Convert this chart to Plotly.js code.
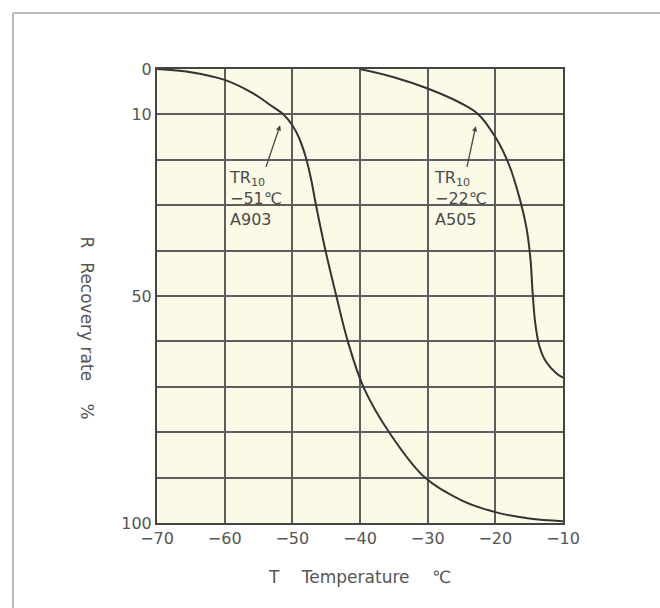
<!DOCTYPE html>
<html>
<head>
<meta charset="utf-8">
<script src="https://cdn.plot.ly/plotly-3.0.1.min.js"></script>
<style>html,body{margin:0;padding:0;background:#fff;}#chart{width:660px;height:608px;}</style>
</head>
<body>
<div id="chart"></div>
<script>
// A903 curve: temperature (°C) vs recovery rate (%)
const a903Temp = [-70, -65, -60, -56, -53, -51.3, -50, -49, -48, -47.2, -46.5, -45.1, -43.5, -41.8, -39.5, -35.7, -30.4, -25, -20, -15, -10];
const a903Rate = [0, 0.7, 2.4, 5.2, 8.2, 10, 12.4, 15.2, 19.5, 24.5, 30, 40, 50, 60, 70, 80, 90, 95, 97.6, 99, 99.6];
// A505 curve
const a505Temp = [-40, -35, -30, -25, -22.5, -20, -18, -16.5, -15.4, -14.8, -14.5, -14.1, -13.5, -12.5, -11, -10];
const a505Rate = [0, 1.8, 4.3, 7.6, 10, 15, 21, 28, 35, 42, 49, 56, 61, 64.5, 67, 68];
// Axis ticks
const xTickVals = [-70, -60, -50, -40, -30, -20, -10];
const xTickText = ['\u221270', '\u221260', '\u221250', '\u221240', '\u221230', '\u221220', '\u221210'];
const yTickVals = [0, 10, 50, 100];
const yTickText = ['0', '10', '50', '100'];
const yGridVals = [20, 30, 40, 60, 70, 80, 90];
// Annotation labels
const labelA903 = 'TR<sub>10</sub><br>\u221251\u2103<br>A903';
const labelA505 = 'TR<sub>10</sub><br>\u221222\u2103<br>A505';
const xTitle = 'T\u2003 Temperature\u2003 \u2103';
const yTitle = 'R\u2002 Recovery rate\u2003 %';

const FONT = 'DejaVu Sans, Verdana, sans-serif';
const lineStyle = {color: '#333333', width: 2, shape: 'spline', smoothing: 1};
const traces = [
  {x: a903Temp, y: a903Rate, mode: 'lines', line: lineStyle, name: 'A903', hoverinfo: 'skip'},
  {x: a505Temp, y: a505Rate, mode: 'lines', line: lineStyle, name: 'A505', hoverinfo: 'skip'}
];

const txtFont = {family: FONT, size: 16, color: '#4a4a4a'};
const gridC = '#5e5e5e';
const layout = {
  width: 660, height: 608,
  margin: {l: 157, r: 97, t: 69, b: 85},
  paper_bgcolor: '#ffffff',
  plot_bgcolor: '#fbfae7',
  showlegend: false,
  xaxis: {
    range: [-70, -10], tickvals: xTickVals, ticktext: xTickText,
    showgrid: true, gridcolor: gridC, gridwidth: 2,
    showline: true, linecolor: '#444', linewidth: 2, mirror: true,
    zeroline: false, ticks: '', ticklen: 0,
    tickfont: {family: FONT, size: 16, color: '#555'},
    title: {text: xTitle, font: {family: FONT, size: 17, color: '#555'}, standoff: 24}
  },
  yaxis: {
    range: [100, 0], tickvals: yTickVals, ticktext: yTickText,
    showgrid: true, gridcolor: gridC, gridwidth: 2,
    minor: {tickvals: yGridVals, showgrid: true, gridcolor: gridC, gridwidth: 2, ticks: ''},
    showline: true, linecolor: '#444', linewidth: 2, mirror: true,
    zeroline: false, ticks: '', ticklen: 0,
    tickfont: {family: FONT, size: 16, color: '#555'}
  },
  annotations: [
    {xref: 'x', yref: 'y', axref: 'x', ayref: 'y', x: -51.8, y: 12.4, ax: -55.5, ay: 28.6,
     text: labelA903, showarrow: true, arrowhead: 2, arrowsize: 0.8, arrowwidth: 1.3, arrowcolor: '#444',
     align: 'left', font: txtFont},
    {xref: 'x', yref: 'y', axref: 'x', ayref: 'y', x: -22.9, y: 12.6, ax: -25.2, ay: 28.6,
     text: labelA505, showarrow: true, arrowhead: 2, arrowsize: 0.8, arrowwidth: 1.3, arrowcolor: '#444',
     align: 'left', font: txtFont},
    {xref: 'paper', yref: 'paper', x: -0.172, y: 0.43, text: yTitle, showarrow: false,
     textangle: 90, xanchor: 'center', yanchor: 'middle', font: {family: FONT, size: 17, color: '#555'}}
  ],
  shapes: [
    {type: 'line', xref: 'paper', yref: 'paper', x0: -0.3547, x1: 1.3, y0: 1.1233, y1: 1.1233,
     line: {color: '#bbbbbb', width: 2}},
    {type: 'line', xref: 'paper', yref: 'paper', x0: -0.3547, x1: -0.3547, y0: 1.1233, y1: -0.2,
     line: {color: '#bbbbbb', width: 2}}
  ]
};
Plotly.newPlot('chart', traces, layout, {displayModeBar: false, staticPlot: true});
</script>
</body>
</html>
